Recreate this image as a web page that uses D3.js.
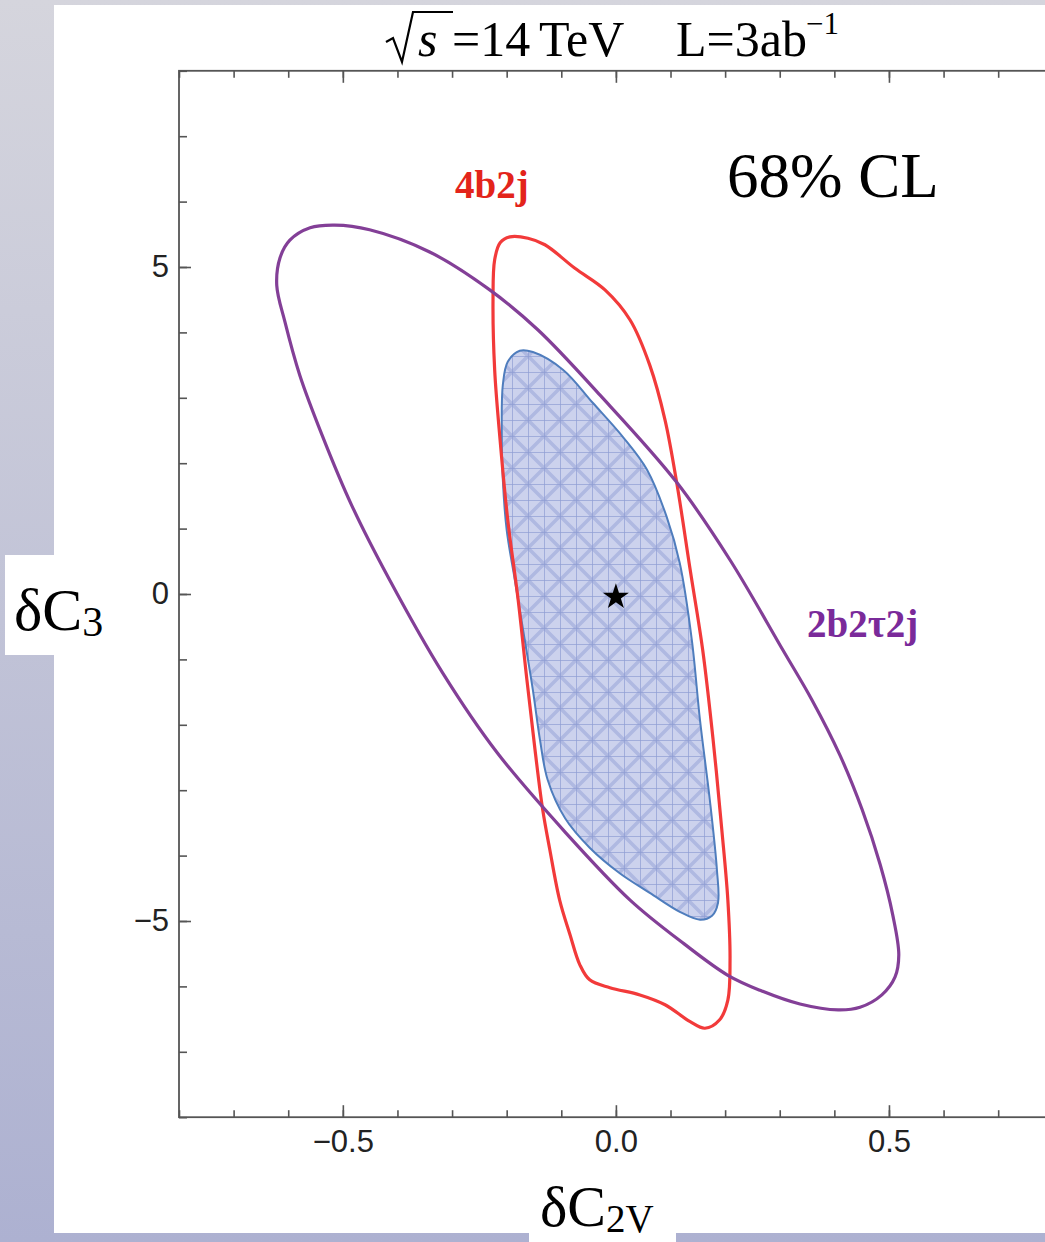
<!DOCTYPE html>
<html><head><meta charset="utf-8">
<script src="https://cdn.jsdelivr.net/npm/d3@7"></script>
<style>html,body{margin:0;padding:0;overflow:hidden;background:#fff}</style>
</head><body>
<script>
// ---------- data (δC2V, δC3) ----------
const contour2b2t2j = [
 [-0.597,5.41],[-0.560,5.60],[-0.515,5.64],[-0.451,5.57],[-0.341,5.23],[-0.231,4.65],
 [-0.143,4.04],[-0.029,3.04],[0.112,1.70],[0.209,0.52],[0.306,-0.86],[0.359,-1.62],
 [0.410,-2.46],[0.451,-3.30],[0.484,-4.14],[0.507,-4.91],[0.518,-5.52],[0.511,-5.86],[0.487,-6.13],
 [0.447,-6.32],[0.407,-6.36],[0.337,-6.27],[0.264,-6.06],[0.205,-5.83],[0.125,-5.35],
 [0.026,-4.68],[-0.093,-3.64],[-0.218,-2.42],[-0.317,-1.21],[-0.414,0.21],[-0.484,1.36],
 [-0.538,2.43],[-0.579,3.35],[-0.606,4.16],[-0.621,4.72],[-0.615,5.14]
];
const contour4b2j = [
 [-0.194,5.46],[-0.161,5.44],[-0.130,5.34],[-0.075,4.98],[-0.020,4.65],[0.026,4.19],
 [0.062,3.50],[0.090,2.66],[0.112,1.67],[0.136,0.37],[0.159,-0.86],[0.178,-2.23],
 [0.194,-3.61],[0.205,-4.68],[0.209,-5.60],[0.205,-6.21],[0.190,-6.51],[0.163,-6.64],
 [0.136,-6.54],[0.090,-6.28],[0.044,-6.13],[-0.011,-6.02],[-0.048,-5.90],[-0.066,-5.67],
 [-0.084,-5.21],[-0.103,-4.68],[-0.121,-3.91],[-0.134,-3.30],[-0.148,-2.39],[-0.163,-1.31],
 [-0.179,-0.09],[-0.198,1.13],[-0.212,2.35],[-0.222,3.43],[-0.225,4.50],[-0.222,5.11],[-0.212,5.37]
];
const contourCombined = [
 [-0.176,3.72],[-0.152,3.70],[-0.097,3.43],[-0.042,2.92],[0.013,2.40],[0.057,1.90],
 [0.093,1.18],[0.117,0.47],[0.139,-0.70],[0.154,-1.93],[0.172,-3.15],[0.185,-4.22],
 [0.187,-4.72],[0.176,-4.92],[0.154,-4.98],[0.117,-4.86],[0.062,-4.57],[0.007,-4.27],
 [-0.048,-3.88],[-0.093,-3.43],[-0.125,-2.84],[-0.139,-2.23],[-0.152,-1.47],[-0.167,-0.70],
 [-0.185,0.21],[-0.200,0.98],[-0.207,1.74],[-0.209,2.51],[-0.207,3.20],[-0.198,3.55]
];
const smPoint = [[0, 0]];
const xMajorTicks = [-0.5, 0, 0.5];
const xMinorTicks = [-0.8,-0.7,-0.6,-0.5,-0.4,-0.3,-0.2,-0.1,0,0.1,0.2,0.3,0.4,0.5,0.6,0.7,0.8];
const yMajorTicks = [-5, 0, 5];
const yMinorTicks = [-8,-7,-6,-5,-4,-3,-2,-1,0,1,2,3,4,5,6,7,8];
const xTickLabels = ["\u22120.5", "0.0", "0.5"];
const yTickLabels = ["\u22125", "0", "5"];
const seriesLabels = ["4b2j", "2b2\u03c42j"];

// ---------- layout ----------
const W = 1045, H = 1242;
const svg = d3.select("body").append("svg").attr("width", W).attr("height", H);
const defs = svg.append("defs");
const grad = defs.append("linearGradient").attr("id","bg").attr("x1",0).attr("y1",0).attr("x2",0).attr("y2",1);
grad.append("stop").attr("offset","0%").attr("stop-color","#d5d5dd");
grad.append("stop").attr("offset","100%").attr("stop-color","#adb1d1");

const pat = defs.append("pattern").attr("id","hatch").attr("patternUnits","userSpaceOnUse")
  .attr("width",32).attr("height",32).attr("x",0).attr("y",4);
pat.append("rect").attr("width",32).attr("height",32).attr("fill","#ccd2ed");
[[0,16,16,0],[16,0,32,16],[32,16,16,32],[16,32,0,16]].forEach(l=>{
  pat.append("line").attr("x1",l[0]).attr("y1",l[1]).attr("x2",l[2]).attr("y2",l[3])
    .attr("stroke","#a5b0de").attr("stroke-width",3.5).attr("opacity",0.75);
});
[0,16].forEach(v=>{
  pat.append("line").attr("x1",v+0.5).attr("y1",0).attr("x2",v+0.5).attr("y2",32).attr("stroke","#8e9dd3").attr("stroke-width",1).attr("opacity",0.7);
  pat.append("line").attr("x1",0).attr("y1",v+0.5).attr("x2",32).attr("y2",v+0.5).attr("stroke","#8e9dd3").attr("stroke-width",1).attr("opacity",0.7);
});

svg.append("rect").attr("width",W).attr("height",H).attr("fill","url(#bg)");
svg.append("rect").attr("x",54).attr("y",5).attr("width",W-54).attr("height",1228).attr("fill","#fff");

const x = d3.scaleLinear().domain([-0.8, 0.8]).range([179, 1052.8]);
const y = d3.scaleLinear().domain([-8, 8]).range([1117.2, 70.8]);

const plot = svg.append("g");
const line = d3.line().x(d=>x(d[0])).y(d=>y(d[1])).curve(d3.curveCatmullRomClosed.alpha(0.5));

plot.append("path").datum(contourCombined).attr("d",line)
  .attr("fill","url(#hatch)").attr("stroke","#4f7dbd").attr("stroke-width",2);
plot.append("path").datum(contour4b2j).attr("d",line)
  .attr("fill","none").attr("stroke","#f23a3a").attr("stroke-width",3.2);
plot.append("path").datum(contour2b2t2j).attr("d",line)
  .attr("fill","none").attr("stroke","#833f97").attr("stroke-width",3.2);

plot.selectAll(".sm").data(smPoint).enter().append("path")
  .attr("d", d3.symbol().type(d3.symbolStar).size(210))
  .attr("transform", d=>`translate(${x(d[0])},${y(d[1])+3})`).attr("fill","#000");

// ---------- axes ----------
const axisColor = "#555";
function styleAxis(g){ g.select(".domain").remove(); g.selectAll("line").attr("stroke",axisColor).attr("stroke-width",1.6); }
const x0 = x.range()[0], x1 = x.range()[1], yb = y.range()[0], yt = y.range()[1];
const sans = "Liberation Sans, Arial, sans-serif";

svg.append("g").attr("transform",`translate(0,${yb})`)
  .call(d3.axisBottom(x).tickValues(xMinorTicks).tickSize(-7).tickFormat("")).call(styleAxis);
svg.append("g").attr("transform",`translate(0,${yb})`)
  .call(d3.axisBottom(x).tickValues(xMajorTicks).tickSize(-12).tickPadding(12)
    .tickFormat((d,i)=>xTickLabels[i])).call(styleAxis)
  .selectAll("text").attr("font-family",sans).attr("font-size",31).attr("fill","#222").attr("dy","0.72em");
svg.append("g").attr("transform",`translate(0,${yt})`)
  .call(d3.axisTop(x).tickValues(xMinorTicks).tickSize(-7).tickFormat("")).call(styleAxis);
svg.append("g").attr("transform",`translate(0,${yt})`)
  .call(d3.axisTop(x).tickValues(xMajorTicks).tickSize(-12).tickFormat("")).call(styleAxis);

svg.append("g").attr("transform",`translate(${x0},0)`)
  .call(d3.axisLeft(y).tickValues(yMinorTicks).tickSize(-8).tickFormat("")).call(styleAxis);
svg.append("g").attr("transform",`translate(${x0},0)`)
  .call(d3.axisLeft(y).tickValues(yMajorTicks).tickSize(-12).tickPadding(10)
    .tickFormat((d,i)=>yTickLabels[i])).call(styleAxis)
  .selectAll("text").attr("font-family",sans).attr("font-size",31).attr("fill","#222");

svg.append("rect").attr("x",x0).attr("y",yt).attr("width",x1-x0).attr("height",yb-yt)
  .attr("fill","none").attr("stroke",axisColor).attr("stroke-width",1.8);

// ---------- texts ----------
const serif = "Liberation Serif, Times New Roman, serif";
// title
svg.append("path").attr("d","M386,42 L393,38 L402,62 L413,12 L453,12")
  .attr("fill","none").attr("stroke","#000").attr("stroke-width",2.2);
const t = svg.append("g").attr("font-family",serif).attr("fill","#000");
t.append("text").attr("x",418).attr("y",56).attr("font-size",50).attr("font-style","italic").text("s");
t.append("text").attr("x",452).attr("y",56).attr("font-size",50).text("=14");
t.append("text").attr("x",539).attr("y",56).attr("font-size",50).text("TeV");
t.append("text").attr("x",676).attr("y",56).attr("font-size",50).text("L=3ab");
t.append("text").attr("x",806).attr("y",34).attr("font-size",31).text("\u22121");

svg.append("text").attr("x",727).attr("y",197).attr("font-family",serif).attr("font-size",63).text("68% CL");

svg.append("text").attr("x",455).attr("y",198).attr("font-family",serif).attr("font-weight","bold")
  .attr("font-size",39).attr("fill","#e3241b").text(seriesLabels[0]);
svg.append("text").attr("x",807).attr("y",637).attr("font-family",serif).attr("font-weight","bold")
  .attr("font-size",39).attr("fill","#7a2a9a").text(seriesLabels[1]);

// y label
svg.append("rect").attr("x",5).attr("y",555).attr("width",105).attr("height",100).attr("fill","#fff");
const yl = svg.append("text").attr("x",14).attr("y",630).attr("font-family",serif).attr("font-size",60);
yl.append("tspan").text("\u03b4C");
yl.append("tspan").attr("font-size",42).attr("dy",6).text("3");

// x label
svg.append("rect").attr("x",529).attr("y",1215).attr("width",147).attr("height",27).attr("fill","#fff");
const xl = svg.append("text").attr("x",540).attr("y",1226).attr("font-family",serif).attr("font-size",58);
xl.append("tspan").text("\u03b4C");
xl.append("tspan").attr("font-size",39).attr("dy",6).text("2V");
</script>
</body></html>
